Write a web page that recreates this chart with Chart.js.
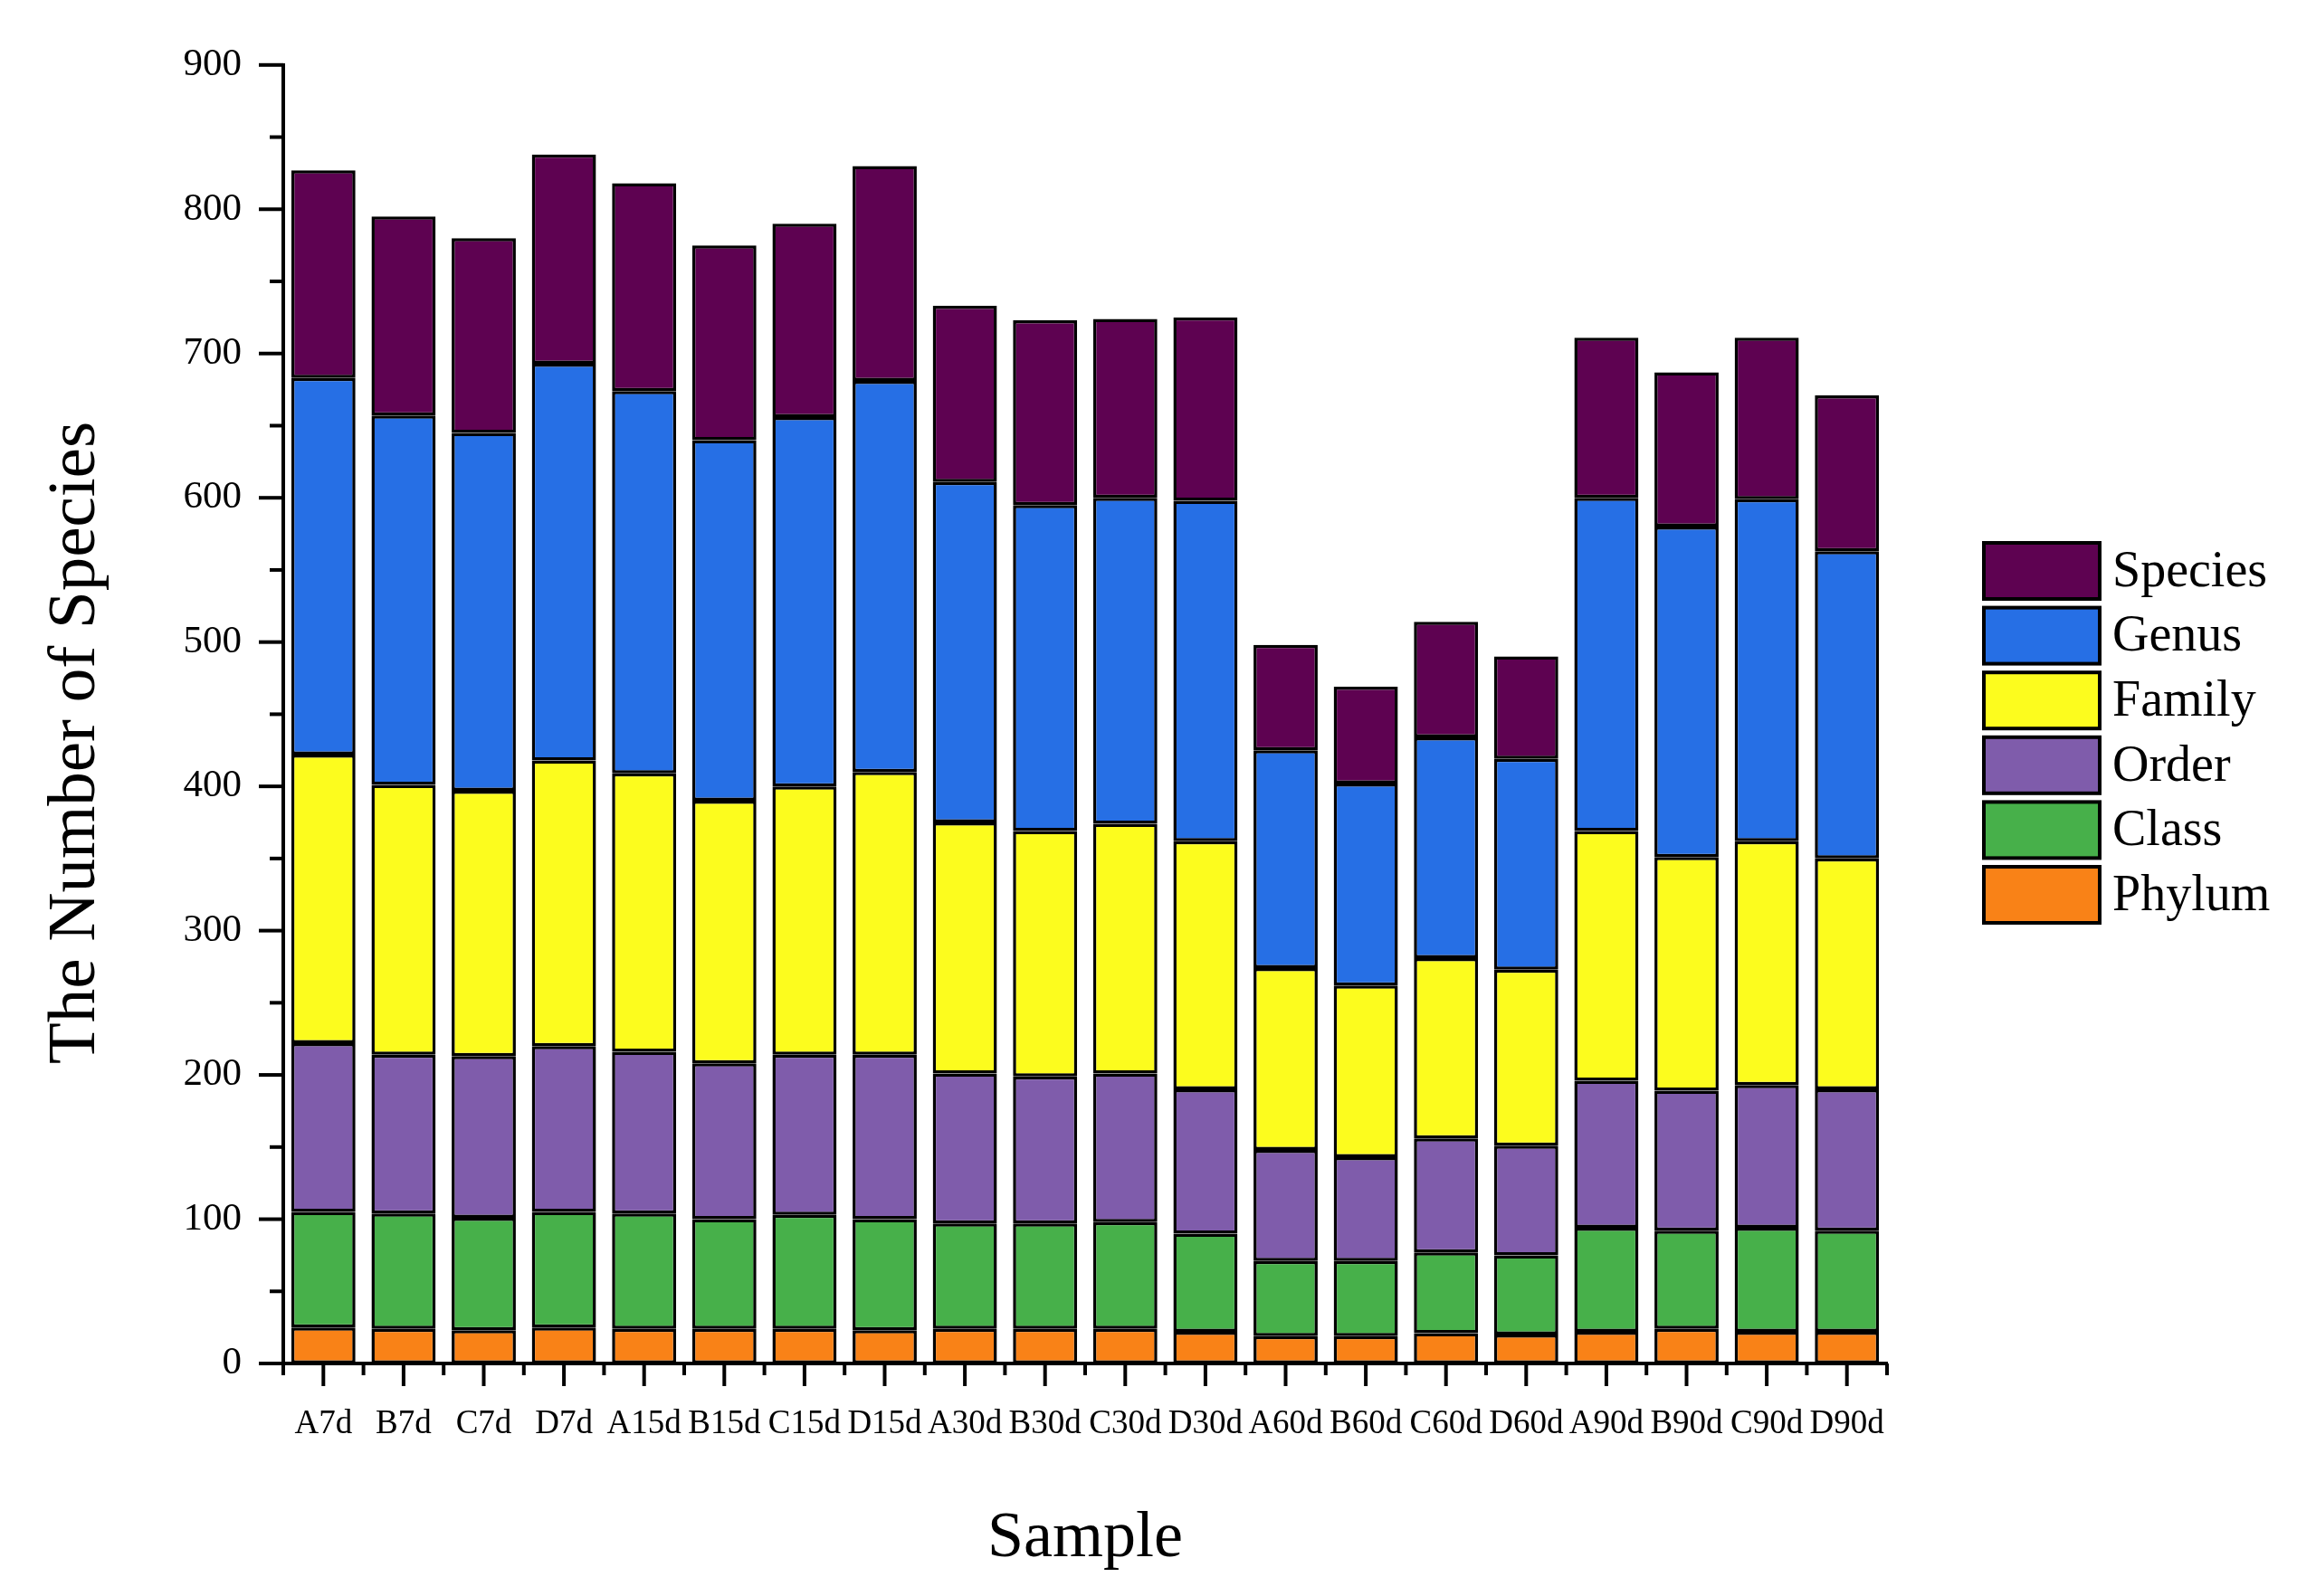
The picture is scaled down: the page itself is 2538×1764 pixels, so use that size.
<!DOCTYPE html>
<html>
<head>
<meta charset="utf-8">
<title>The Number of Species</title>
<script src="https://cdn.jsdelivr.net/npm/chart.js@4.4.1/dist/chart.umd.min.js"></script>
<style>
  body { margin: 0; background: #fff; }
  #wrap { width: 2538px; height: 1764px; position: relative; }
</style>
</head>
<body>
<div id="wrap"><canvas id="grafico"></canvas></div>
<script>
// Datos (altura de cada segmento)
const muestras = ['A7d', 'B7d', 'C7d', 'D7d', 'A15d', 'B15d', 'C15d', 'D15d', 'A30d', 'B30d',
                  'C30d', 'D30d', 'A60d', 'B60d', 'C60d', 'D60d', 'A90d', 'B90d', 'C90d', 'D90d'];
const phylum  = [25, 24, 23, 25, 24, 24, 24, 23, 24, 24, 24, 22, 19, 19, 21, 20, 22, 24, 22, 22];
const clase   = [80, 80, 78, 80, 80, 76, 79, 77, 73, 73, 74, 68, 52, 52, 56, 55, 72, 68, 72, 70];
const orden   = [117, 110, 112, 115, 112, 108, 111, 114, 104, 102, 103, 100, 77, 72, 79, 76, 102, 97, 99, 98];
const familia = [200, 187, 184, 198, 193, 182, 186, 196, 174, 170, 173, 172, 126, 119, 125, 122, 173, 162, 169, 160];
const genero  = [261, 256, 248, 275, 265, 250, 256, 271, 236, 226, 226, 236, 151, 140, 153, 146, 231, 229, 237, 213];
const especie = [144, 138, 135, 145, 144, 135, 134, 149, 122, 128, 124, 127, 73, 67, 80, 71, 111, 107, 112, 108];
const yTicks = [0, 100, 200, 300, 400, 500, 600, 700, 800, 900];

const fuente = '"Liberation Serif", "Times New Roman", serif';

// Marcas de los ejes (mayores y menores), titulo del eje Y y leyenda a la derecha
const marcasEjes = {
    id: 'marcasEjes',
    afterDraw(chart) {
        const { ctx, scales: { x, y } } = chart;
        ctx.save();
        ctx.strokeStyle = '#000';
        ctx.lineWidth = 4;
        for (let v = 0; v <= 900; v += 50) {
            const py = y.getPixelForValue(v);
            const largo = v % 100 === 0 ? 27 : 15;
            ctx.beginPath();
            ctx.moveTo(y.right - largo, py);
            ctx.lineTo(y.right, py);
            ctx.stroke();
        }
        for (let i = 0; i < muestras.length; i++) {
            const px = x.getPixelForValue(i);
            ctx.beginPath();
            ctx.moveTo(px, x.top);
            ctx.lineTo(px, x.top + 25);
            ctx.stroke();
        }
        for (let i = 0; i <= muestras.length; i++) {
            const px = x.getPixelForValue(i - 0.5);
            ctx.beginPath();
            ctx.moveTo(px, x.top);
            ctx.lineTo(px, x.top + 13);
            ctx.stroke();
        }

        // titulo del eje Y (un poco por debajo del centro, como en la figura)
        ctx.save();
        ctx.translate(84, 821);
        ctx.rotate(-Math.PI / 2);
        ctx.font = '75px ' + fuente;
        ctx.fillStyle = '#000';
        ctx.textAlign = 'center';
        ctx.textBaseline = 'middle';
        ctx.fillText('The Number of Species', 0, 0);
        ctx.restore();

        // leyenda (orden inverso: Species arriba)
        const ds = chart.data.datasets.slice().reverse();
        ctx.font = '56px ' + fuente;
        ctx.textBaseline = 'middle';
        ctx.textAlign = 'left';
        ds.forEach((d, i) => {
            const top = 600 + i * 71.6;
            ctx.fillStyle = d.backgroundColor;
            ctx.fillRect(2192, top, 128, 62);
            ctx.lineWidth = 4;
            ctx.strokeRect(2192, top, 128, 62);
            ctx.fillStyle = '#000';
            ctx.fillText(d.label, 2334, top + 33);
        });
        ctx.restore();
    }
};

const colores = {
    Phylum: '#f98217',
    Class: '#47b04a',
    Order: '#7f5cab',
    Family: '#fcfc1e',
    Genus: '#266fe5',
    Species: '#5e0251'
};

function serie(label, data) {
    return {
        label: label,
        data: data,
        backgroundColor: colores[label],
        borderColor: '#000',
        borderWidth: 3.5,
        borderSkipped: false,
        barPercentage: 0.8,
        categoryPercentage: 1.0
    };
}

new Chart(document.getElementById('grafico'), {
    type: 'bar',
    data: {
        labels: muestras,
        datasets: [
            serie('Phylum', phylum),
            serie('Class', clase),
            serie('Order', orden),
            serie('Family', familia),
            serie('Genus', genero),
            serie('Species', especie)
        ]
    },
    options: {
        responsive: true,
        maintainAspectRatio: false,
        animation: false,
        devicePixelRatio: 1,
        layout: { padding: { left: 0, top: 65, right: 453, bottom: 0 } },
        plugins: {
            legend: { display: false },
            tooltip: { enabled: false }
        },
        scales: {
            x: {
                stacked: true,
                offset: true,
                grid: { display: false, drawTicks: false },
                border: { display: true, color: '#000', width: 4 },
                ticks: {
                    color: '#000',
                    font: { family: fuente, size: 37 },
                    padding: 45,
                    maxRotation: 0,
                    autoSkip: false
                },
                title: {
                    display: true,
                    text: 'Sample',
                    color: '#000',
                    font: { family: fuente, size: 72 },
                    padding: { top: 0, bottom: 20 }
                },
                afterFit(scale) { scale.height = 257; }
            },
            y: {
                stacked: true,
                min: 0,
                max: 900,
                afterBuildTicks(scale) { scale.ticks = yTicks.map(v => ({ value: v })); },
                grid: { display: false, drawTicks: false },
                border: { display: true, color: '#000', width: 4 },
                ticks: {
                    color: '#000',
                    font: { family: fuente, size: 43 },
                    padding: 46
                },
                title: { display: false },
                afterFit(scale) { scale.width = 313; }
            }
        }
    },
    plugins: [marcasEjes]
});
</script>
</body>
</html>
